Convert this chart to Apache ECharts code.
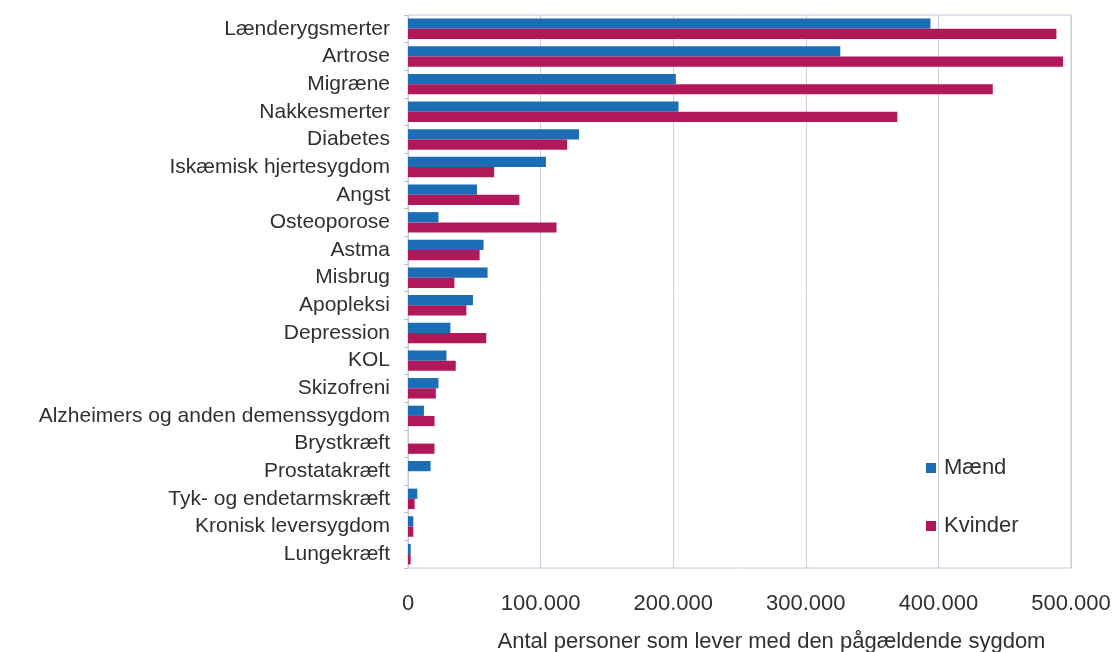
<!DOCTYPE html>
<html>
<head>
<meta charset="utf-8">
<script src="https://cdn.jsdelivr.net/npm/echarts@6/dist/echarts.min.js"></script>
<style>
  html, body { margin: 0; padding: 0; background: #fff; }
  #chart { width: 1117px; height: 652px; }
</style>
</head>
<body>
<div id="chart"></div>
<script>
// data
var categories = ['Lænderygsmerter', 'Artrose', 'Migræne', 'Nakkesmerter', 'Diabetes',
  'Iskæmisk hjertesygdom', 'Angst', 'Osteoporose', 'Astma', 'Misbrug', 'Apopleksi',
  'Depression', 'KOL', 'Skizofreni', 'Alzheimers og anden demenssygdom', 'Brystkræft',
  'Prostatakræft', 'Tyk- og endetarmskræft', 'Kronisk leversygdom', 'Lungekræft'];
var maend = [394000, 326000, 202000, 204000, 129000, 104000, 52000, 23000, 57000, 60000,
  49000, 32000, 29000, 23000, 12000, 0, 17000, 7000, 4000, 2000];
var kvinder = [489000, 494000, 441000, 369000, 120000, 65000, 84000, 112000, 54000, 35000,
  44000, 59000, 36000, 21000, 20000, 20000, 0, 5000, 4000, 2000];
var seriesNames = ['Mænd', 'Kvinder'];

var myChart = echarts.init(document.getElementById('chart'));

// 100000 -> 100.000
function fmt(v) {
  return String(v).replace(/\B(?=(\d{3})+(?!\d))/g, '.');
}

var option = {
  animation: false,
  textStyle: { fontFamily: 'Liberation Sans, Arial, sans-serif' },
  grid: {
    left: 408, right: 46, top: 15, bottom: 84,
    containLabel: false, outerBoundsMode: 'none',
    show: true, borderColor: '#c3cadb', borderWidth: 1
  },
  legend: {
    orient: 'vertical',
    left: 921, top: 452,
    itemWidth: 10, itemHeight: 10, itemGap: 36,
    icon: 'rect',
    textStyle: { fontSize: 22, color: '#2e3033', padding: [0, 0, 0, 3] },
    data: seriesNames
  },
  xAxis: {
    type: 'value',
    min: 0, max: 500000, interval: 100000,
    axisLine: { show: false },
    axisTick: { show: false },
    splitLine: { lineStyle: { color: '#c8cfdf' } },
    axisLabel: { fontSize: 22, color: '#2e3033', margin: 25, formatter: fmt },
    name: 'Antal personer som lever med den pågældende sygdom',
    nameLocation: 'middle',
    nameGap: 63,
    nameTextStyle: { fontSize: 22, color: '#2e3033', padding: [0, 0, 0, 64] }
  },
  yAxis: {
    type: 'category',
    inverse: true,
    data: categories,
    axisLine: { show: true, lineStyle: { color: '#c3cadb' } },
    axisTick: { show: true, length: 4, lineStyle: { color: '#b8c0d4' } },
    axisLabel: { interval: 0, fontSize: 21, color: '#2e3033', margin: 18 }
  },
  series: [
    {
      name: seriesNames[0], type: 'bar', data: maend,
      barGap: 0, barCategoryGap: '26%',
      itemStyle: { color: '#1b6db6' }
    },
    {
      name: seriesNames[1], type: 'bar', data: kvinder,
      barGap: 0, barCategoryGap: '26%',
      itemStyle: { color: '#b1185a' }
    }
  ]
};

myChart.setOption(option);
window.addEventListener('resize', function () {
  myChart.resize();
});
</script>
</body>
</html>
